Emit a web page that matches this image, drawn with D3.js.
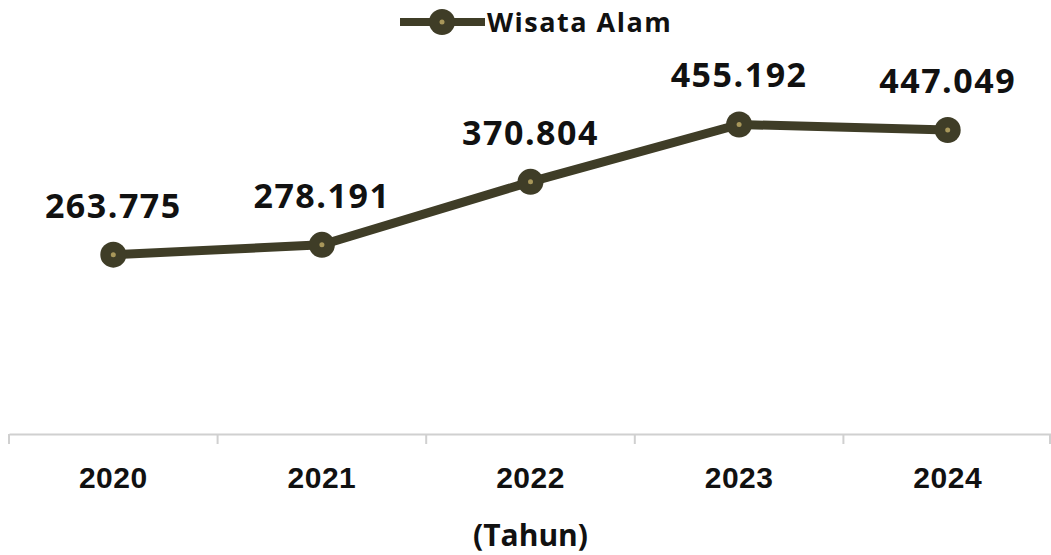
<!DOCTYPE html>
<html>
<head>
<meta charset="utf-8">
<script src="https://cdnjs.cloudflare.com/ajax/libs/d3/7.8.5/d3.min.js"></script>
<style>
  body { margin: 0; background: #fff; }
  svg { display: block; font-family: "Open Sans", sans-serif; }
</style>
</head>
<body>
<svg id="chart" width="1051" height="555"></svg>
<script>
const years = ['2020', '2021', '2022', '2023', '2024'];
const wisataAlam = [263775, 278191, 370804, 455192, 447049];
const seriesName = 'Wisata Alam';
const axisTitle = '(Tahun)';

const lineColor = '#3f3d27';
const dotColor = '#a8975a';

const svg = d3.select('#chart');
const width = 1051;

const x = d3.scaleBand().domain(years).range([9, 1052]);
const y = d3.scaleLinear().domain([0, 500000]).range([434, 94]);

const fmt = v => d3.format(',')(v).replace(/,/g, '.');

// axis
const axis = d3.axisBottom(x).tickSize(0).tickFormat(d => d);
const gx = svg.append('g').attr('transform', 'translate(0,434)').call(axis);
gx.select('.domain').attr('stroke', '#d0d0d0').attr('stroke-width', 2);
gx.selectAll('text')
  .attr('dy', 0).attr('y', 54)
  .style('font-size', '30px').style('font-weight', 700)
  .style('letter-spacing', '0.5px').attr('fill', '#111');

// tick marks between the categories
const bounds = years.map(d => x(d)).concat([1050]);
svg.append('g').selectAll('line').data(bounds).join('line')
  .attr('x1', d => d).attr('x2', d => d)
  .attr('y1', 434).attr('y2', 444)
  .attr('stroke', '#d0d0d0').attr('stroke-width', 2);

svg.append('text')
  .attr('x', width / 2 + 5).attr('y', 546)
  .attr('text-anchor', 'middle')
  .style('font-size', '30px').style('font-weight', 700).attr('fill', '#111')
  .text(axisTitle);

// line
const cx = d => x(d) + x.bandwidth() / 2;
const line = d3.line().x((d, i) => cx(years[i])).y(d => y(d));
svg.append('path').datum(wisataAlam)
  .attr('d', line).attr('fill', 'none')
  .attr('stroke', lineColor).attr('stroke-width', 9);

const pts = svg.append('g').selectAll('g').data(wisataAlam).join('g')
  .attr('transform', (d, i) => `translate(${cx(years[i])},${y(d)})`);
pts.append('circle').attr('r', 13).attr('fill', lineColor);
pts.append('circle').attr('r', 2.5).attr('fill', dotColor);

pts.append('text')
  .attr('text-anchor', 'middle')
  .attr('y', -37)
  .style('font-size', '34px').style('font-weight', 700)
  .style('letter-spacing', '1.5px').attr('fill', '#111')
  .text(d => fmt(d));

// legend
const lg = svg.append('g').attr('transform', 'translate(400,22)');
lg.append('line').attr('x1', 0).attr('x2', 85)
  .attr('stroke', lineColor).attr('stroke-width', 8);
lg.append('circle').attr('cx', 42).attr('r', 13).attr('fill', lineColor);
lg.append('circle').attr('cx', 42).attr('r', 2.5).attr('fill', dotColor);
lg.append('text').attr('x', 87).attr('y', 10)
  .style('font-size', '27px').style('font-weight', 700)
  .style('letter-spacing', '1.5px').attr('fill', '#111')
  .text(seriesName);
</script>
</body>
</html>
